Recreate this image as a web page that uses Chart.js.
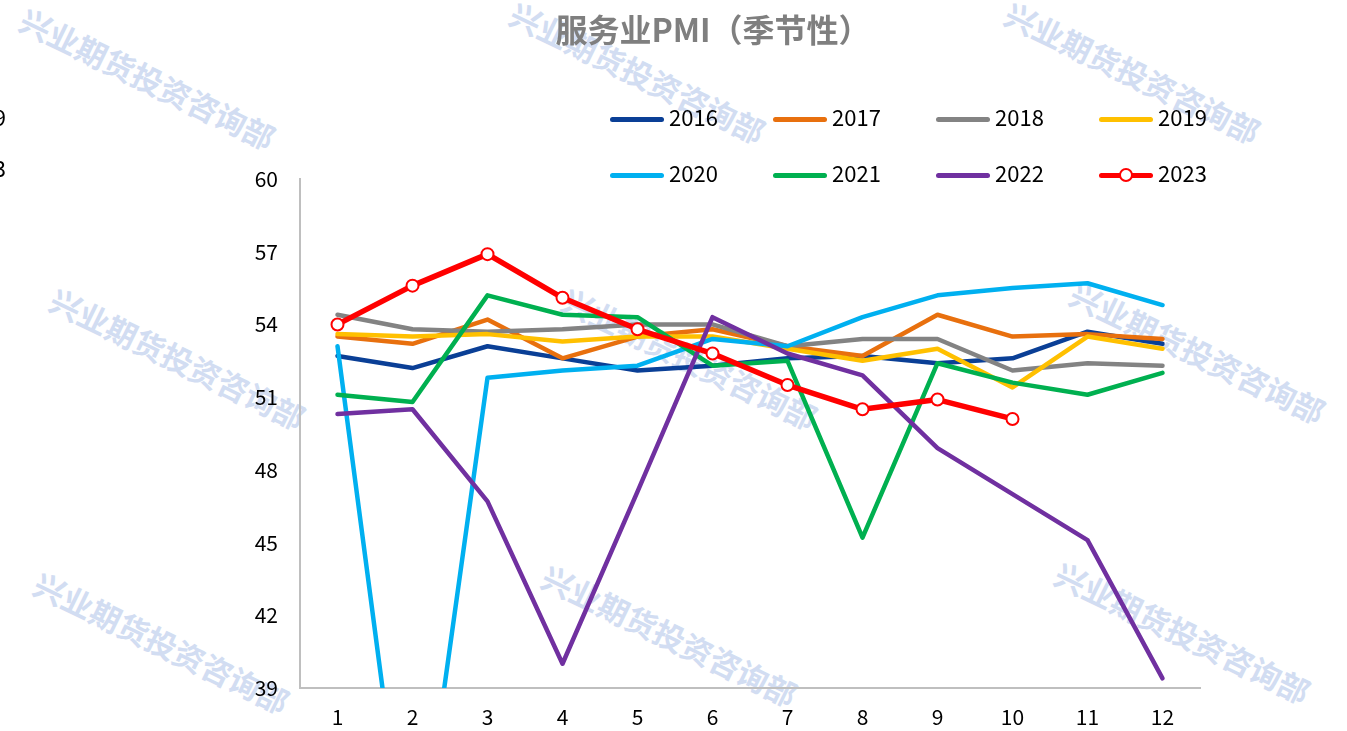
<!DOCTYPE html>
<html>
<head>
<meta charset="utf-8">
<script src="https://cdn.jsdelivr.net/npm/chart.js@4.4.0/dist/chart.umd.min.js"></script>
<style>
  html, body { margin: 0; padding: 0; background: #fff; }
  #wrap { position: relative; width: 1347px; height: 731px; overflow: hidden; font-family: "Noto Sans CJK SC", "Noto Sans", sans-serif; }
  .wm { position: absolute; color: #d2ddf2; font-size: 31px; font-weight: bold; white-space: nowrap; transform: translate(-50%, -50%) rotate(26deg); z-index: 0; }
  #pmi { position: absolute; left: 0; top: 0; z-index: 1; }
  #title { position: absolute; left: 713px; top: 28px; transform: translate(-50%, -50%); font-size: 32px; font-weight: bold; color: #7f7f7f; white-space: nowrap; z-index: 2; }
  .lg-line { position: absolute; height: 5px; width: 54px; border-radius: 3px; z-index: 2; }
  .lg-text { position: absolute; font-size: 22px; line-height: 26px; color: #000; z-index: 2; }
  .lg-dot { position: absolute; width: 10px; height: 10px; border: 2px solid #ff0000; background: #fff; border-radius: 50%; z-index: 3; }
  .frag { position: absolute; right: 1341px; font-size: 22px; line-height: 26px; color: #000; z-index: 2; }
</style>
</head>
<body>
<div id="wrap">
  <div id="title">服务业PMI（季节性）</div>
  <canvas id="pmi" width="1347" height="731"></canvas>
</div>
<script>
const months = ["1", "2", "3", "4", "5", "6", "7", "8", "9", "10", "11", "12"];
const years = ["2016", "2017", "2018", "2019", "2020", "2021", "2022", "2023"];

const s2016 = [52.7, 52.2, 53.1, 52.6, 52.1, 52.3, 52.6, 52.7, 52.4, 52.6, 53.7, 53.2];
const s2017 = [53.5, 53.2, 54.2, 52.6, 53.5, 53.8, 53.1, 52.7, 54.4, 53.5, 53.6, 53.4];
const s2018 = [54.4, 53.8, 53.7, 53.8, 54.0, 54.0, 53.1, 53.4, 53.4, 52.1, 52.4, 52.3];
const s2019 = [53.6, 53.5, 53.6, 53.3, 53.5, 53.5, 53.0, 52.5, 53.0, 51.4, 53.5, 53.0];
const s2020 = [53.1, 29.6, 51.8, 52.1, 52.3, 53.4, 53.1, 54.3, 55.2, 55.5, 55.7, 54.8];
const s2021 = [51.1, 50.8, 55.2, 54.4, 54.3, 52.3, 52.5, 45.2, 52.4, 51.6, 51.1, 52.0];
const s2022 = [50.3, 50.5, 46.7, 40.0, 47.1, 54.3, 52.8, 51.9, 48.9, 47.0, 45.1, 39.4];
const s2023 = [54.0, 55.6, 56.9, 55.1, 53.8, 52.8, 51.5, 50.5, 50.9, 50.1, null, null];

const yMin = 39, yMax = 60, yStep = 3;
const watermarkText = "兴业期货投资咨询部";

const colors = ["#0a3f96", "#e8700e", "#838383", "#ffc000", "#00b0f0", "#00b050", "#7030a0", "#ff0000"];
const allSeries = [s2016, s2017, s2018, s2019, s2020, s2021, s2022, s2023];
const fontFamily = '"Noto Sans CJK SC", "Noto Sans", sans-serif';

const wrap = document.getElementById("wrap");

// watermarks behind the chart
const wmSpots = [[148, 78], [638, 72], [1133, 72], [178, 358], [690, 358], [1198, 352], [162, 642], [670, 635], [1183, 632]];
wmSpots.forEach(p => {
  const d = document.createElement("div");
  d.className = "wm";
  d.style.left = p[0] + "px";
  d.style.top = p[1] + "px";
  d.textContent = watermarkText;
  wrap.appendChild(d);
});

// cut-off labels at left edge
[["2019", 103], ["2023", 154]].forEach(f => {
  const d = document.createElement("div");
  d.className = "frag";
  d.style.top = f[1] + "px";
  d.textContent = f[0];
  wrap.appendChild(d);
});

// legend, 2 rows x 4
years.forEach((y, i) => {
  const col = i % 4, row = Math.floor(i / 4);
  const lx = 610 + col * 163;
  const ly = row === 0 ? 119 : 175;
  const line = document.createElement("div");
  line.className = "lg-line";
  line.style.left = lx + "px";
  line.style.top = (ly - 2) + "px";
  line.style.background = colors[i];
  wrap.appendChild(line);
  if (y === "2023") {
    const dot = document.createElement("div");
    dot.className = "lg-dot";
    dot.style.left = (lx + 27 - 7) + "px";
    dot.style.top = (ly - 7) + "px";
    wrap.appendChild(dot);
  }
  const t = document.createElement("div");
  t.className = "lg-text";
  t.style.left = (lx + 59) + "px";
  t.style.top = (ly - 16) + "px";
  t.textContent = y;
  wrap.appendChild(t);
});

const datasets = years.map((y, i) => {
  const is23 = y === "2023";
  return {
    label: y,
    data: allSeries[i],
    borderColor: colors[i],
    backgroundColor: colors[i],
    borderWidth: is23 ? 5.5 : 4.5,
    pointRadius: is23 ? 6 : 0,
    pointBorderWidth: 2,
    pointBackgroundColor: "#ffffff",
    pointBorderColor: colors[i],
    borderJoinStyle: "round",
    borderCapStyle: "round",
    tension: 0,
    fill: false,
    spanGaps: false,
    order: years.length - 1 - i
  };
});

const ctx = document.getElementById("pmi").getContext("2d");
new Chart(ctx, {
  type: "line",
  data: { labels: months, datasets: datasets },
  options: {
    responsive: false,
    animation: false,
    layout: { padding: { top: 179, right: 147, bottom: 0, left: 0 } },
    plugins: {
      legend: { display: false },
      title: { display: false },
      tooltip: { enabled: false }
    },
    scales: {
      x: {
        offset: true,
        grid: { display: false, drawTicks: false },
        border: { display: true, color: "#bfbfbf", width: 2 },
        ticks: { color: "#000", font: { size: 21, family: fontFamily }, padding: 16, maxRotation: 0 },
        afterFit: s => { s.height = 43; }
      },
      y: {
        min: yMin,
        max: yMax,
        grid: { display: false, drawTicks: false },
        border: { display: true, color: "#bfbfbf", width: 2 },
        ticks: { stepSize: yStep, color: "#000", font: { size: 21, family: fontFamily }, padding: 22 },
        afterFit: s => { s.width = 300; }
      }
    }
  }
});
</script>
</body>
</html>
